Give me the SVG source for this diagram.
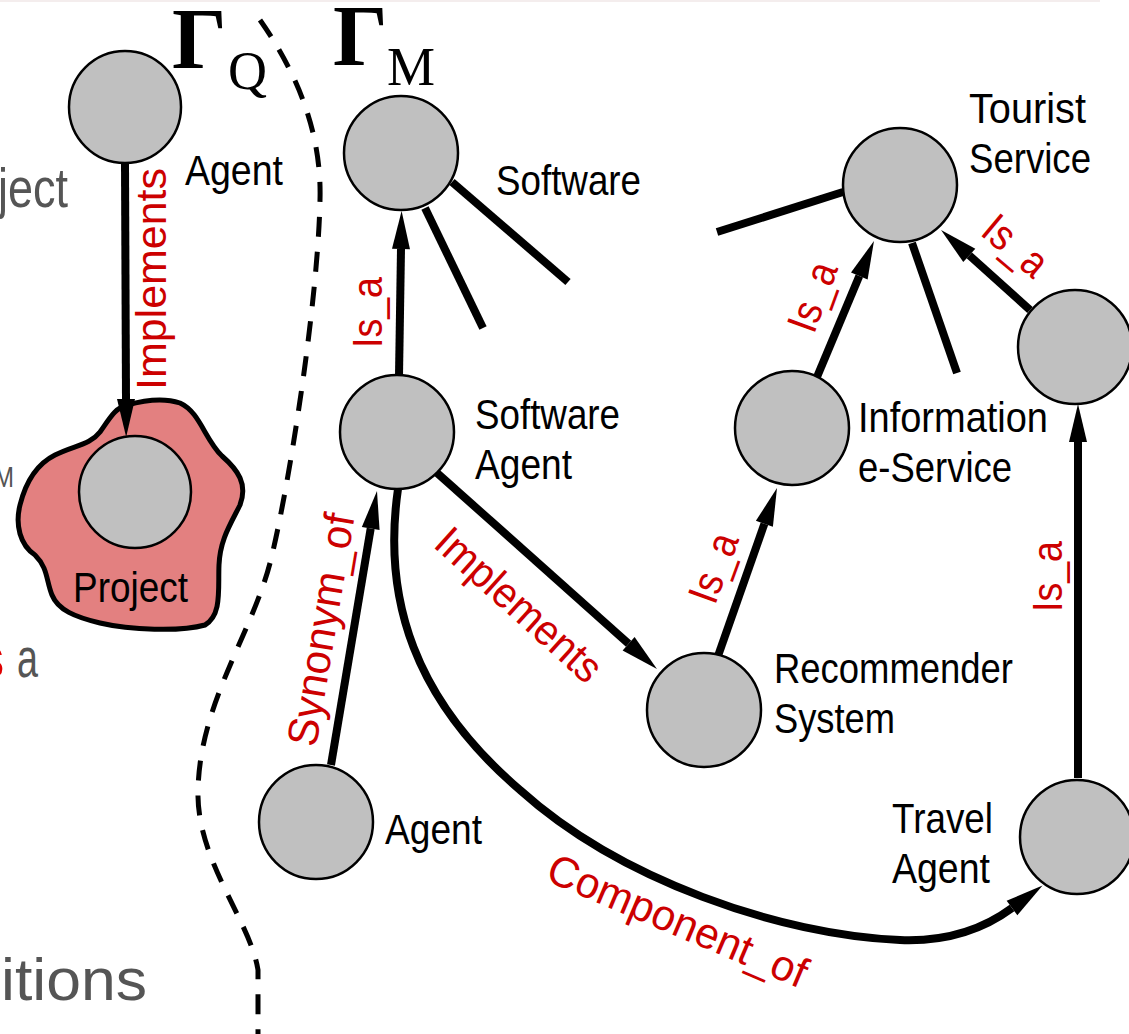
<svg xmlns="http://www.w3.org/2000/svg" width="1129" height="1034" viewBox="0 0 1129 1034">
  <defs>
    <style>
      .node circle { fill: #c0c0c0; stroke: #000; stroke-width: 2.5; }
      .lbl { font-family: "Liberation Sans", Arial, sans-serif; font-size: 42px; fill: #000; }
      .rel { font-family: "Liberation Sans", Arial, sans-serif; font-size: 43px; fill: #cc0000; }
      .bg { font-family: "Liberation Sans", Arial, sans-serif; fill: #555; }
      .edge { stroke: #000; stroke-width: 8; fill: none; }
      .arrow { marker-end: url(#ah); }
      .sep { stroke: #000; stroke-width: 5; fill: none; stroke-dasharray: 20 15; }
      .gamma { font-family: "Liberation Serif", "Times New Roman", serif; fill: #000; }
    </style>
    <marker id="ah" markerUnits="userSpaceOnUse" markerWidth="40" markerHeight="20" viewBox="0 -10 40 20" refX="0" refY="0" orient="auto" overflow="visible">
      <path d="M0,-9 L38,0 L0,9 Z" fill="#000"/>
    </marker>
  </defs>

  <rect width="1129" height="1034" fill="#fff"/>
  <rect x="0" y="0" width="1100" height="2" fill="#f4eded"/>

  <!-- partially visible text at the left edge -->
  <g id="edge-text">
    <text class="bg" x="-2" y="207" font-size="56" textLength="70" lengthAdjust="spacingAndGlyphs">ject</text>
    <text class="bg" x="-6" y="487" font-size="30" fill="#666" textLength="20" lengthAdjust="spacingAndGlyphs">M</text>
    <text x="-19" y="677" font-family="Liberation Sans, Arial, sans-serif" font-size="56" fill="#e00000" textLength="23" lengthAdjust="spacingAndGlyphs">s</text>
    <text class="bg" x="17" y="677" font-size="56" textLength="21" lengthAdjust="spacingAndGlyphs">a</text>
    <text class="bg" x="1" y="1000" font-size="60" textLength="146" lengthAdjust="spacingAndGlyphs">itions</text>
  </g>

  <!-- graph titles -->
  <g id="title-q">
    <text class="gamma" x="172" y="68" font-size="86" font-weight="bold">Γ</text>
    <text class="gamma" x="228" y="89" font-size="54">Q</text>
  </g>
  <g id="title-m">
    <text class="gamma" x="333" y="65" font-size="86" font-weight="bold">Γ</text>
    <text class="gamma" x="387" y="85" font-size="54">M</text>
  </g>

  <!-- boundary between the two graphs -->
  <path id="separator" class="sep" d="M 260 20 C 295 70, 322 130, 320 200 C 318 300, 290 480, 272 555 C 255 630, 200 700, 198 790 C 196 860, 250 920, 258 970 L 258 1034"/>

  <!-- project region -->
  <g id="project">
    <path d="M 127 405 C 145 400, 165 398, 180 403 C 200 412, 205 440, 222 456 C 238 470, 248 484, 240 505 C 230 525, 220 540, 219 565 C 218 590, 222 615, 205 625 C 180 632, 130 630, 100 623 C 75 617, 58 610, 52 595 C 46 580, 48 568, 35 555 C 20 545, 15 525, 20 505 C 25 485, 35 465, 55 455 C 75 445, 90 445, 100 432 C 110 418, 115 408, 127 405 Z" fill="#e38080" stroke="#000" stroke-width="5" stroke-linejoin="round"/>
  </g>

  <!-- connectors -->
  <g id="connectors">
    <!-- unfinished branches -->
    <line class="edge" x1="452" y1="182" x2="568" y2="282"/>
    <line class="edge" x1="425" y1="208" x2="483" y2="328"/>
    <line class="edge" x1="843" y1="192" x2="717" y2="232"/>
    <line class="edge" x1="912" y1="243" x2="957" y2="373"/>

    <line class="edge arrow" x1="125" y1="164" x2="126" y2="399"/>
    <line class="edge arrow" x1="399" y1="376" x2="401" y2="249"/>
    <line class="edge arrow" x1="436" y1="472" x2="628.6" y2="643.7"/>
    <line class="edge arrow" x1="331" y1="765" x2="370.7" y2="528.5"/>
    <line class="edge arrow" x1="718" y1="656" x2="764.4" y2="523.8"/>
    <line class="edge arrow" x1="817" y1="377" x2="859.3" y2="276"/>
    <line class="edge arrow" x1="1030" y1="310" x2="969.3" y2="255.4"/>
    <line class="edge arrow" x1="1078" y1="778" x2="1078" y2="442"/>
    <path class="edge arrow" d="M 398 489 C 382 600, 415 700, 520 790 C 620 880, 780 935, 900 940 C 950 942, 985 928, 1012 908"/>

    <!-- relation labels -->
    <text class="rel" transform="translate(166 390) rotate(-90)" textLength="222" lengthAdjust="spacingAndGlyphs">Implements</text>
    <text class="rel" transform="translate(382 348) rotate(-90)" textLength="71" lengthAdjust="spacingAndGlyphs">Is_a</text>
    <text class="rel" transform="translate(316 748) rotate(-80.5)" textLength="235" lengthAdjust="spacingAndGlyphs">Synonym_of</text>
    <text class="rel" transform="translate(432 546) rotate(42)" textLength="208" lengthAdjust="spacingAndGlyphs">Implements</text>
    <text class="rel" transform="translate(715 606) rotate(-70)" textLength="71" lengthAdjust="spacingAndGlyphs">Is_a</text>
    <text class="rel" transform="translate(814 335) rotate(-70)" textLength="71" lengthAdjust="spacingAndGlyphs">Is_a</text>
    <text class="rel" transform="translate(979 234) rotate(40)" textLength="71" lengthAdjust="spacingAndGlyphs">Is_a</text>
    <text class="rel" transform="translate(1062 612) rotate(-90)" textLength="71" lengthAdjust="spacingAndGlyphs">Is_a</text>
    <text class="rel" transform="translate(544 880) rotate(23)" textLength="278" lengthAdjust="spacingAndGlyphs">Component_of</text>
  </g>

  <!-- nodes -->
  <g id="agent-q" class="node">
    <circle cx="125" cy="107" r="56"/>
    <text class="lbl" x="185" y="185" textLength="98" lengthAdjust="spacingAndGlyphs">Agent</text>
  </g>
  <g id="project-node" class="node">
    <circle cx="135" cy="492" r="56"/>
    <text class="lbl" x="73" y="602" textLength="115" lengthAdjust="spacingAndGlyphs">Project</text>
  </g>
  <g id="software" class="node">
    <circle cx="401" cy="153" r="57"/>
    <text class="lbl" x="496" y="195" textLength="145" lengthAdjust="spacingAndGlyphs">Software</text>
  </g>
  <g id="software-agent" class="node">
    <circle cx="397" cy="432" r="57"/>
    <text class="lbl" x="475" y="429" textLength="145" lengthAdjust="spacingAndGlyphs">Software</text>
    <text class="lbl" x="475" y="479" textLength="97" lengthAdjust="spacingAndGlyphs">Agent</text>
  </g>
  <g id="agent-m" class="node">
    <circle cx="316" cy="822" r="57"/>
    <text class="lbl" x="385" y="844" textLength="97" lengthAdjust="spacingAndGlyphs">Agent</text>
  </g>
  <g id="recommender-system" class="node">
    <circle cx="704" cy="710" r="57"/>
    <text class="lbl" x="774" y="683" textLength="239" lengthAdjust="spacingAndGlyphs">Recommender</text>
    <text class="lbl" x="774" y="733" textLength="121" lengthAdjust="spacingAndGlyphs">System</text>
  </g>
  <g id="information-eservice" class="node">
    <circle cx="792" cy="428" r="57"/>
    <text class="lbl" x="858" y="432" textLength="190" lengthAdjust="spacingAndGlyphs">Information</text>
    <text class="lbl" x="858" y="482" textLength="154" lengthAdjust="spacingAndGlyphs">e-Service</text>
  </g>
  <g id="tourist-service" class="node">
    <circle cx="900" cy="185" r="57"/>
    <text class="lbl" x="969" y="123" textLength="117" lengthAdjust="spacingAndGlyphs">Tourist</text>
    <text class="lbl" x="969" y="173" textLength="122" lengthAdjust="spacingAndGlyphs">Service</text>
  </g>
  <g id="service-node" class="node">
    <circle cx="1075" cy="347" r="57"/>
  </g>
  <g id="travel-agent" class="node">
    <circle cx="1077" cy="837" r="57"/>
    <text class="lbl" x="892" y="833" textLength="101" lengthAdjust="spacingAndGlyphs">Travel</text>
    <text class="lbl" x="892" y="883" textLength="98" lengthAdjust="spacingAndGlyphs">Agent</text>
  </g>
</svg>
